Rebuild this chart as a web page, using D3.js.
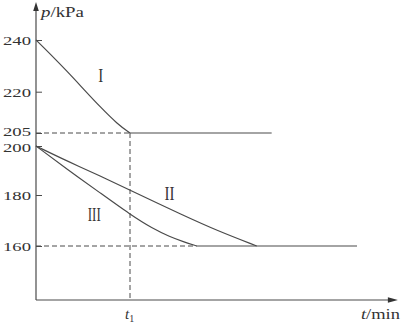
<!DOCTYPE html>
<html><head><meta charset="utf-8">
<script src="https://cdn.jsdelivr.net/npm/d3@7"></script>
<style>html,body{margin:0;padding:0;background:#fff;}svg{display:block;}</style>
</head><body>
<svg id="c" width="407" height="324"></svg>
<script>
// ---- data ----
const yTicks = [160, 180, 200, 205, 220, 240];
const t1 = 1;
const curveI_t = [0, 0.156, 0.333, 0.511, 0.688, 0.865, 1.0];
const curveI_p = [240, 234.4, 227.8, 220.8, 214.3, 208.3, 205];
const plateauI_t = [1.0, 2.507];
const plateauI_p = [205, 205];
const curveII_t = [0, 0.333, 0.688, 1.007, 1.567, 1.922, 2.348];
const curveII_p = [200, 193.8, 187.7, 181.8, 172.0, 166.1, 160];
const curveIII_t = [0, 0.333, 0.688, 1.007, 1.237, 1.426, 1.567, 1.71];
const curveIII_p = [200, 190.5, 180.7, 172.2, 166.9, 163.6, 161.7, 160];
const plateau160_t = [1.71, 3.415];
const plateau160_p = [160, 160];
const seriesLabels = ["I", "II", "III"];
const labelPos_t = [0.69, 1.42, 0.62];
const labelPos_p = [226, 180.3, 172.3];
const xAxisEnd = 3.85;
const yMin = 139;

// ---- scales ----
const svg = d3.select("#c");
const x = d3.scaleLinear().domain([0, 1]).range([36, 130]);
const y = d3.scaleLinear()
  .domain([yMin, 160, 180, 200, 205, 220, 240])
  .range([300, 246, 195, 146, 133, 91.7, 40]);

const ink = "#4a4a4a";
const serif = "'Liberation Serif','Times New Roman',serif";
const zip = (a, b) => a.map((v, i) => [v, b[i]]);

// ---- dashed guides ----
const dash = "5,3";
const guides = [
  [[0, 205], [t1, 205]],
  [[0, 160], [curveIII_t[curveIII_t.length - 1], 160]],
  [[t1, 205], [t1, yMin]]
];
guides.forEach(g => {
  svg.append("line")
    .attr("x1", x(g[0][0])).attr("y1", y(g[0][1]))
    .attr("x2", x(g[1][0])).attr("y2", y(g[1][1]))
    .attr("stroke", ink).attr("stroke-width", 1).attr("stroke-dasharray", dash);
});

// ---- axes ----
const yAxis = d3.axisLeft(y).tickValues(yTicks).tickSize(-6).tickPadding(5).tickFormat(d3.format("d"));
const gy = svg.append("g").attr("transform", `translate(${x(0)},0)`).call(yAxis);
gy.select(".domain").remove();
gy.selectAll(".tick line").attr("stroke", ink).attr("stroke-width", 1);
gy.selectAll(".tick text")
  .attr("font-family", serif).attr("font-size", 13.5).attr("fill", "#333")
  .attr("textLength", 28).attr("lengthAdjust", "spacingAndGlyphs")
  .attr("dy", d => d === 205 ? "0.22em" : d === 200 ? "0.4em" : "0.32em");

// axis lines
svg.append("line").attr("x1", x(0)).attr("y1", y(yMin)).attr("x2", x(0)).attr("y2", 8)
  .attr("stroke", ink).attr("stroke-width", 1.2);
svg.append("line").attr("x1", x(0)).attr("y1", y(yMin)).attr("x2", x(xAxisEnd) - 6).attr("y2", y(yMin))
  .attr("stroke", ink).attr("stroke-width", 1.2);
// arrowheads
const ax = x(0), ay = 2;
svg.append("path").attr("d", `M${ax},${ay} L${ax - 2.8},${ay + 9} L${ax + 2.8},${ay + 9} Z`).attr("fill", "#333");
const bx = x(xAxisEnd), by = y(yMin);
svg.append("path").attr("d", `M${bx},${by} L${bx - 10},${by - 2.8} L${bx - 10},${by + 2.8} Z`).attr("fill", "#333");

// axis titles
const pt = svg.append("text").attr("x", 41).attr("y", 17)
  .attr("font-family", serif).attr("font-size", 15).attr("fill", "#333")
  .attr("textLength", 43).attr("lengthAdjust", "spacingAndGlyphs");
pt.append("tspan").attr("font-style", "italic").text("p");
pt.append("tspan").text("/kPa");

const tt = svg.append("text").attr("x", 361).attr("y", 319)
  .attr("font-family", serif).attr("font-size", 15).attr("fill", "#333")
  .attr("textLength", 39).attr("lengthAdjust", "spacingAndGlyphs");
tt.append("tspan").attr("font-style", "italic").text("t");
tt.append("tspan").text("/min");

const t1l = svg.append("text").attr("x", x(t1) - 5).attr("y", 319)
  .attr("font-family", serif).attr("font-size", 15).attr("fill", "#333");
t1l.append("tspan").attr("font-style", "italic").text("t");
t1l.append("tspan").attr("font-size", 10).attr("dy", 3).text("1");

// ---- curves ----
const curveLine = d3.line().x(d => x(d[0])).y(d => y(d[1])).curve(d3.curveBasis);
const straight = d3.line().x(d => x(d[0])).y(d => y(d[1]));
const drawPath = (data, gen) => svg.append("path").datum(data).attr("d", gen)
  .attr("fill", "none").attr("stroke", ink).attr("stroke-width", 1.2);

drawPath(zip(curveI_t, curveI_p), curveLine);
drawPath(zip(plateauI_t, plateauI_p), straight);
drawPath(zip(curveII_t, curveII_p), curveLine);
drawPath(zip(curveIII_t, curveIII_p), curveLine);
drawPath(zip(plateau160_t, plateau160_p), straight);

// ---- series labels ----
const lw = [5, 10, 13];
seriesLabels.forEach((s, i) => {
  svg.append("text").attr("x", x(labelPos_t[i])).attr("y", y(labelPos_p[i]))
    .attr("text-anchor", "middle").attr("dominant-baseline", "central")
    .attr("font-family", serif).attr("font-size", 18).attr("fill", "#333")
    .attr("textLength", lw[i]).attr("lengthAdjust", "spacingAndGlyphs")
    .text(s);
});
</script>
</body></html>
